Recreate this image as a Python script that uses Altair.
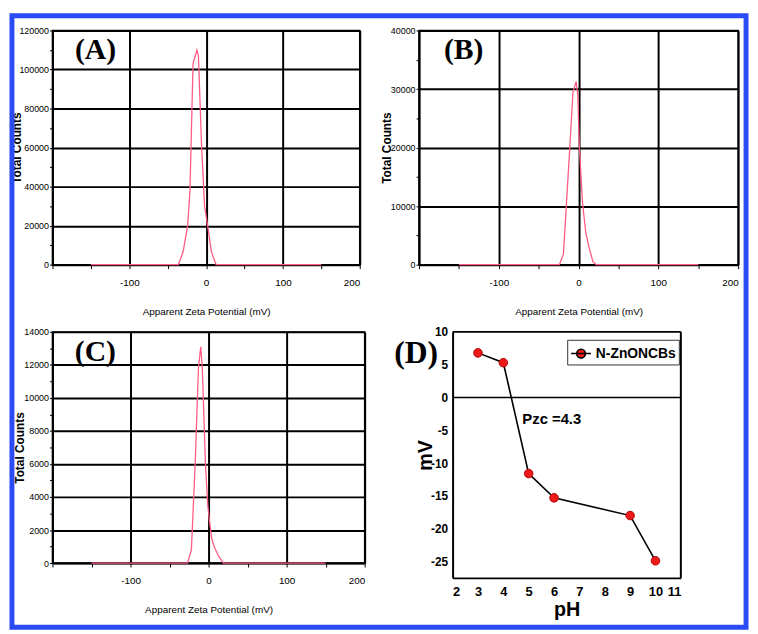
import altair as alt
import pandas as pd

# ---------------- data ----------------
a_x = [-150, -36, -30, -24, -21, -17, -12, -10, -6, -2, 2, 7, 13, 150]
a_y = [0, 0, 6500, 20000, 38000, 103000, 110000, 107000, 62000, 30000, 20000, 6500, 0, 0]

b_x = [-150, -24, -19, -11, -7, -3, -1, 1, 5, 9, 13, 18, 22, 150]
b_y = [0, 0, 1800, 20000, 29500, 31300, 29000, 20000, 10500, 5500, 3000, 500, 0, 0]

c_x = [-150, -27, -22, -17, -13, -10, -8, -4, -1, 1, 4, 7, 13, 19, 150]
c_y = [0, 0, 800, 6200, 11800, 13100, 11800, 6000, 3500, 2600, 1500, 1000, 400, 0, 0]

d_ph = [3, 4, 5, 6, 9, 10]
d_mv = [6.8, 5.3, -11.6, -15.3, -18.0, -24.9]
d_series = "N-ZnONCBs"

x_tick_values = [-200, -150, -100, -50, 0, 50, 100, 150, 200]
x_label_values = [-100, 0, 100, 200]
d_x_ticks = [2, 3, 4, 5, 6, 7, 8, 9, 10, 11]
d_y_ticks = [-25, -20, -15, -10, -5, 0, 5, 10]

NARROW = "Liberation Sans, Arial, sans-serif"
BOLD = "Liberation Sans, Arial, sans-serif"
SERIF = "Liberation Serif, Times New Roman, serif"
LINE_COLOR = "#ff5c85"
BORDER = "#2b4cf5"


def zeta_panel(xs, ys, ymax, ystep, tag, tag_x, tag_y, w, h, title_x, border=False):
    df = pd.DataFrame({"x": xs, "y": ys})
    half = ystep // 2
    y_values = list(range(0, ymax + 1, half))
    lbl = "[" + ",".join(str(v) for v in x_label_values) + "]"
    xaxis = alt.Axis(
        values=x_tick_values, tickCount=100,
        labelExpr=f"indexof({lbl}, datum.value) >= 0 ? datum.value + '' : ''",
        labelOverlap=False,
        grid=True,
        gridOpacity={"condition": {"test": "datum.value % 100 != 0", "value": 0}, "value": 1},
        title="Apparent Zeta Potential (mV)",
        titleFont=NARROW, titleFontSize=10, titleFontWeight="normal", titlePadding=19,
        labelFont=NARROW, labelFontSize=10, labelPadding=9, tickSize=4,
    )
    yaxis = alt.Axis(
        values=y_values, tickCount=100,
        labelExpr=f"datum.value % {ystep} == 0 ? datum.value + '' : ''",
        labelOverlap=False,
        grid=True,
        gridOpacity={"condition": {"test": f"datum.value % {ystep} != 0", "value": 0}, "value": 1},
        title="Total Counts",
        titleFont=BOLD, titleFontSize=12, titleFontWeight="bold",
        titleX=title_x, titleY=h / 2, titleBaseline="middle", titleAlign="center",
        labelFont=NARROW, labelFontSize=9, labelPadding=1, tickSize=3,
    )
    line = alt.Chart(df).mark_line(color=LINE_COLOR, strokeWidth=1.3).encode(
        x=alt.X("x:Q", scale=alt.Scale(domain=[-200, 200], nice=False, zero=False), axis=xaxis),
        y=alt.Y("y:Q", scale=alt.Scale(domain=[0, ymax], nice=False), axis=yaxis),
    )
    tdf = pd.DataFrame({"x": [tag_x], "y": [tag_y], "t": [tag]})
    txt = alt.Chart(tdf).mark_text(font=SERIF, fontWeight="bold", fontSize=30,
                                   baseline="middle", align="center", color="black").encode(
        x="x:Q", y="y:Q", text="t:N")
    layers = [line, txt]
    if border:
        bdf = pd.DataFrame({"k": [0]})
        frame = alt.Chart(bdf).mark_rect(filled=False, color=BORDER, strokeWidth=5).encode(
            x=alt.value(-41), x2=alt.value(702), y=alt.value(-15), y2=alt.value(604))
        layers.append(frame)
    return alt.layer(*layers).properties(width=w, height=h)


A = zeta_panel(a_x, a_y, 120000, 20000, "(A)", -144, 110000, 311, 237, -36, border=True)
B = zeta_panel(b_x, b_y, 40000, 10000, "(B)", -144, 36600, 323, 237, -33)
C = zeta_panel(c_x, c_y, 14000, 2000, "(C)", -145, 12800, 316, 234, -33)

# ---------------- panel D ----------------
D_SHIFT = 34
D_W = 231
D_H = 249
ddf = pd.DataFrame({"pH": d_ph, "mV": d_mv, "s": [d_series] * len(d_ph)})
dx = alt.X("pH:Q", scale=alt.Scale(domain=[2, 11], nice=False, zero=False,
                                   range=[D_SHIFT, D_SHIFT + D_W]),
           axis=alt.Axis(values=d_x_ticks, tickCount=100, title="pH", titleFont=BOLD,
                         titleFontSize=20, titleFontWeight="bold", titlePadding=1,
                         labelFont=BOLD, labelFontSize=13, labelFontWeight="bold",
                         labelPadding=8, tickSize=0, grid=False,
                         labelOverlap=False, domainWidth=2,
                         labelExpr="datum.value + ''"))
dy = alt.Y("mV:Q", scale=alt.Scale(domain=[-27.5, 10], nice=False, zero=False),
           axis=alt.Axis(values=d_y_ticks, tickCount=100, title="mV", titleFont=BOLD,
                         titleFontSize=20, titleFontWeight="bold",
                         titleX=-27, titleY=D_H / 2, titleBaseline="middle", titleAlign="center",
                         labelFont=BOLD, labelFontSize=12, labelFontWeight="bold",
                         labelPadding=5, tickSize=0,
                         grid=False, domainWidth=2, offset=-D_SHIFT, labelOverlap=False,
                         labelExpr="datum.value + ''"))
d_line = alt.Chart(ddf).mark_line(color="black", strokeWidth=1.6).encode(x=dx, y=dy)
# legend position (relative to the layout origin): panel D origin + inset
LEG_X = 316 + 55 + D_SHIFT + 116
LEG_Y = 237 + 68 + 8
d_pts = alt.Chart(ddf).mark_point(filled=True, size=75, opacity=1, stroke="#b00000",
                                  strokeWidth=1).encode(
    x="pH:Q", y="mV:Q",
    color=alt.Color("s:N", scale=alt.Scale(range=["#ee1a1a"]),
                    legend=alt.Legend(title=None, orient="none", legendX=LEG_X, legendY=LEG_Y,
                                      strokeColor="#333333", padding=3, labelFont=BOLD,
                                      labelFontSize=14, labelFontWeight="bold",
                                      labelColor="black",
                                      symbolType="M-1,0H1M-0.45,0A0.45,0.45,0,1,1,0.45,0A0.45,0.45,0,1,1,-0.45,0Z",
                                      symbolSize=400, symbolStrokeColor="black",
                                      symbolStrokeWidth=1.5)))
# zero line and top/right frame lines of panel D
frame_x = [2, 2, 11]
frame_x2 = [11, 11, 11]
frame_y = [0, 10, -27.5]
frame_y2 = [0, 10, 10]
fdf = pd.DataFrame({"x": frame_x, "x2": frame_x2, "y": frame_y, "y2": frame_y2,
                    "w": [1.5, 2, 2]})
d_frame = alt.Chart(fdf).mark_rule(color="black").encode(
    x="x:Q", x2="x2:Q", y="y:Q", y2="y2:Q",
    strokeWidth=alt.StrokeWidth("w:Q", scale=None))
ann = pd.DataFrame({"x": [4.75, 0.56], "y": [-3.3, 6.7], "t": ["Pzc =4.3", "(D)"],
                    "k": ["pzc", "tag"]})
pzc = alt.Chart(ann[ann.k == "pzc"]).mark_text(font=BOLD, fontWeight="bold", fontSize=15,
                                               align="left", baseline="middle",
                                               color="black").encode(x="x:Q", y="y:Q", text="t:N")
dtag = alt.Chart(ann[ann.k == "tag"]).mark_text(font=SERIF, fontWeight="bold", fontSize=32,
                                                align="center", baseline="middle",
                                                color="black").encode(x="x:Q", y="y:Q", text="t:N")
D = alt.layer(d_frame, d_line, d_pts, pzc, dtag).properties(
    width=D_SHIFT + D_W, height=D_H, view=alt.ViewBackground(strokeWidth=0))

chart = alt.concat(A, B, C, D, columns=2, spacing={"row": 68, "column": 55},
                   bounds="flush", align="none").properties(
    padding=0, background="white"
).configure_view(stroke="black", strokeWidth=1.5).configure_axis(
    domainColor="black", domainWidth=1.5, tickColor="black", gridColor="black", gridWidth=2,
    labelColor="black", titleColor="black"
)

chart.save("out.html", embed_options={"renderer": "svg", "actions": False})
